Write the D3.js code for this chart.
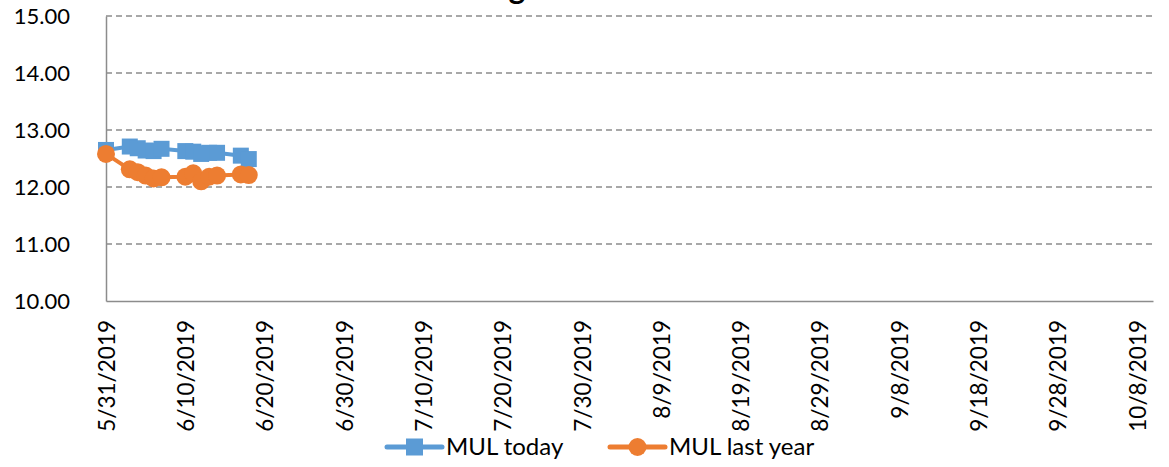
<!DOCTYPE html>
<html><head><meta charset="utf-8">
<script src="https://cdn.jsdelivr.net/npm/d3@7"></script>
<style>body{margin:0;background:#fff;} svg{display:block;} text{font-family:Lato,"Open Sans",sans-serif;fill:#000;}</style>
</head><body><svg id="c" width="1169" height="467"></svg>
<script>
const dates = ["2019-05-31","2019-06-03","2019-06-04","2019-06-05","2019-06-06","2019-06-07","2019-06-10","2019-06-11","2019-06-12","2019-06-13","2019-06-14","2019-06-17","2019-06-18"];
const mulToday = [12.65,12.71,12.68,12.64,12.63,12.67,12.63,12.62,12.58,12.60,12.60,12.55,12.49];
const mulLastYear = [12.58,12.31,12.26,12.20,12.15,12.17,12.18,12.24,12.10,12.18,12.20,12.22,12.21];
const yTicks = [10,11,12,13,14,15];
const xTickDates = ["2019-05-31","2019-06-10","2019-06-20","2019-06-30","2019-07-10","2019-07-20","2019-07-30","2019-08-09","2019-08-19","2019-08-29","2019-09-08","2019-09-18","2019-09-28","2019-10-08"];
const xDomain = ["2019-05-31","2019-10-10"];
const seriesNames = ["MUL today","MUL last year"];
const titleText = "g";

const parse = d3.utcParse("%Y-%m-%d");
const svg = d3.select("#c");
const L=106,R=1153,T=16,B=301;
const x = d3.scaleUtc().domain(xDomain.map(parse)).range([L,R]);
const y = d3.scaleLinear().domain([10,15]).range([B,T]);

svg.append("text").attr("x",517).attr("y",-1).attr("text-anchor","middle").attr("font-size",32).attr("font-weight","bold").text(titleText);

// grid
svg.append("g").selectAll("line").data(yTicks.filter(v=>v>10)).join("line")
  .attr("x1",L).attr("x2",R).attr("y1",d=>y(d)).attr("y2",d=>y(d))
  .attr("stroke","#8c8c8c").attr("stroke-width",1.3).attr("stroke-dasharray","6,4");

// y axis
const ya = svg.append("g").attr("transform",`translate(${L},0)`).call(d3.axisLeft(y).tickValues(yTicks).tickFormat(d3.format(".2f")).tickSize(0).tickPadding(36));
ya.select(".domain").attr("stroke","#8c8c8c").attr("stroke-width",1.5);
ya.selectAll("text").attr("font-size",22).style("font-family","Lato");

// x axis
const xa = svg.append("g").attr("transform",`translate(0,${B})`).call(d3.axisBottom(x).tickValues(xTickDates.map(parse)).tickFormat(d3.utcFormat("%-m/%-d/%Y")).tickSize(0));
xa.select(".domain").attr("stroke","#8c8c8c").attr("stroke-width",1.5);
xa.selectAll("text").attr("font-size",22.5).style("font-family","Lato")
  .attr("transform","rotate(-90)").attr("text-anchor","end").attr("dy","0.36em").attr("dx","-19").attr("y",0).attr("x",0);

const blue="#5b9bd5", orange="#ed7d31";
const pts = (vals)=>dates.map((d,i)=>({x:x(parse(d)),y:y(vals[i])}));
const line = d3.line().x(d=>d.x).y(d=>d.y);

const pb = pts(mulToday), po = pts(mulLastYear);
svg.append("path").attr("d",line(pb)).attr("fill","none").attr("stroke",blue).attr("stroke-width",4);
svg.append("g").selectAll("rect").data(pb).join("rect").attr("x",d=>d.x-8).attr("y",d=>d.y-8).attr("width",16).attr("height",16).attr("fill",blue);
svg.append("path").attr("d",line(po)).attr("fill","none").attr("stroke",orange).attr("stroke-width",4);
svg.append("g").selectAll("circle").data(po).join("circle").attr("cx",d=>d.x).attr("cy",d=>d.y).attr("r",9).attr("fill",orange);

// legend
const lg = svg.append("g");
const items = [{n:seriesNames[0],c:blue,m:"sq",x0:387},{n:seriesNames[1],c:orange,m:"ci",x0:610}];
const ly=447;
items.forEach(it=>{
  lg.append("line").attr("x1",it.x0).attr("x2",it.x0+55).attr("y1",ly).attr("y2",ly).attr("stroke",it.c).attr("stroke-width",5).attr("stroke-linecap","round");
  if(it.m==="sq") lg.append("rect").attr("x",it.x0+27.5-8.5).attr("y",ly-8.5).attr("width",17).attr("height",17).attr("fill",it.c);
  else lg.append("circle").attr("cx",it.x0+27.5).attr("cy",ly).attr("r",9).attr("fill",it.c);
  lg.append("text").attr("x",it.x0+59).attr("y",ly).attr("dy","0.35em").attr("font-size",24).text(it.n);
});
</script></body></html>
